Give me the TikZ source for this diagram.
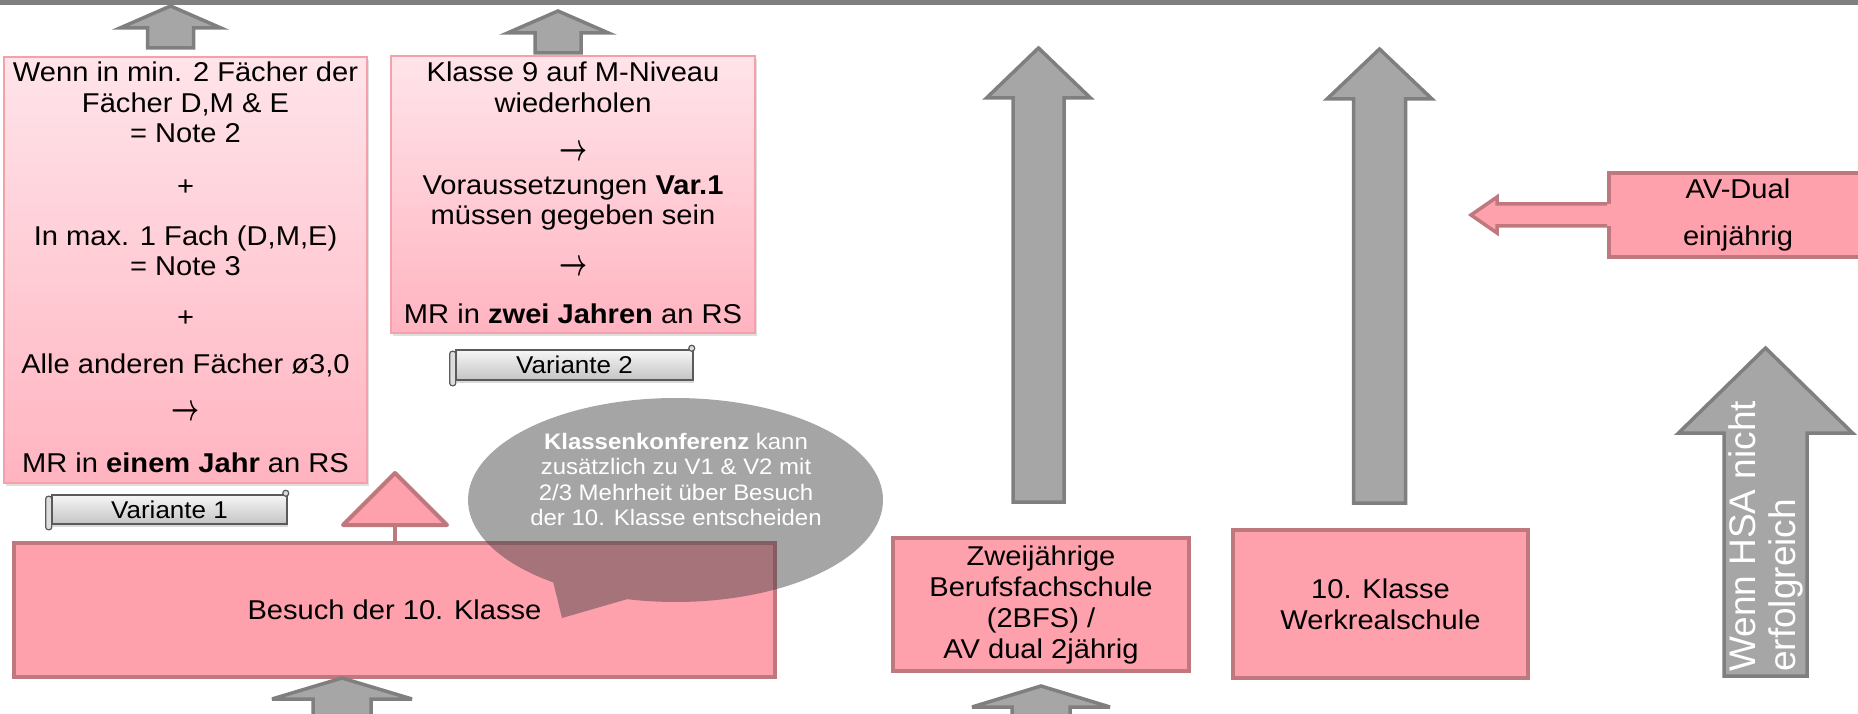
\documentclass[tikz,border=0pt]{standalone}
\usepackage{graphicx}
\usepackage{fontspec}
\setmainfont{Liberation Sans}[FakeStretch=1.07]
\newfontfamily\hsafont{Liberation Sans}
\usetikzlibrary{shadows}
\definecolor{bargray}{RGB}{128,128,128}
\definecolor{arrowfill}{RGB}{166,166,166}
\definecolor{arrowline}{RGB}{127,127,127}
\definecolor{pinkfill}{RGB}{255,161,172}
\definecolor{roseline}{RGB}{192,120,127}
\definecolor{lightpinktop}{RGB}{255,228,234}
\definecolor{lightpinkbot}{RGB}{255,180,192}
\definecolor{lightpinkline}{RGB}{246,160,172}
\definecolor{scrolltop}{RGB}{246,246,246}
\definecolor{scrollbot}{RGB}{196,196,196}
\definecolor{scrollline}{RGB}{90,90,90}
\definecolor{bubblecol}{RGB}{64,64,64}
\newcommand\mainsz{\fontsize{27.2}{31}\selectfont}
\newcommand\labsz{\fontsize{24.3}{27}\selectfont}
\newcommand\bubsz{\fontsize{22.4}{25.3}\selectfont}
\newcommand\hsasz{\hsafont\fontsize{37}{40}\selectfont}
\newcommand\rarr{\resizebox{28pt}{15pt}{\boldmath$\rightarrow$}}
\newcommand\UpBlk[6]{\draw[grayblk] (#1,#2) -- ({#1+#5},#3) -- ({#1+#6},#3) -- ({#1+#6},#4) -- ({#1-#6},#4) -- ({#1-#6},#3) -- ({#1-#5},#3) -- cycle;}
\newcommand\ScrollDeco[1]{%
  \draw[scrollpart, rounded corners=2.5pt] ([shift={(-5.5,2)}]#1.north west) rectangle ([shift={(0.5,5)}]#1.south west);
  \draw[scrollpart] ([shift={(-2,-1)}]#1.north east) circle[radius=3];}
\tikzset{
  grayblk/.style={fill=arrowfill, draw=arrowline, line width=3.5pt, line join=miter, miter limit=6},
  pinkbox/.style={rectangle, fill=pinkfill, draw=roseline, line width=4pt, inner sep=0pt, align=center, font=\mainsz},
  gradbox/.style={rectangle, top color=lightpinktop, bottom color=lightpinkbot, draw=lightpinkline, line width=1.5pt, inner sep=0pt,
    drop shadow={opacity=0.25, shadow xshift=1.5pt, shadow yshift=-3pt}},
  linetext/.style={anchor=base, inner sep=0pt, font=\mainsz},
  scrollbody/.style={rectangle, top color=scrolltop, bottom color=scrollbot, draw=scrollline, line width=1.5pt, inner sep=0pt, font=\labsz,
    drop shadow={opacity=0.3, shadow xshift=1pt, shadow yshift=-2.5pt}},
  scrollpart/.style={fill=scrolltop!50!scrollbot, draw=scrollline, line width=1.2pt},
  bubbletext/.style={anchor=base, inner sep=0pt, text=white, font=\bubsz},
  tristyle/.style={fill=pinkfill, draw=roseline, line width=4pt, line join=round},
  stemline/.style={draw=roseline, line width=4.5pt},
}
\begin{document}
\begin{tikzpicture}[x=1pt, y=-1pt]
\useasboundingbox (0,0) rectangle (1858,714);
\fill[bargray] (0,0) rectangle (1858,5.5);

% --- Variante 1 box
\node[gradbox, minimum width=363, minimum height=426] (box1) at (185.5,270) {};
\foreach \yy/\mytxt [count=\i] in {82/{Wenn in min. 2 Fächer der}, 113/{Fächer D,M \& E}, 143/{= Note 2}, 196/{+},
   245/{In max. 1 Fach (D,M,E)}, 275/{= Note 3}, 326/{+}, 373/{Alle anderen Fächer ø3,0}, 420/{\rarr},
   472/{MR in \textbf{einem Jahr} an RS}}
  \node[linetext] (boa\i) at (185.5,\yy) {\mytxt};

% --- Variante 2 box
\node[gradbox, minimum width=364, minimum height=277] (box2) at (573,194.5) {};
\foreach \yy/\mytxt [count=\i] in {82/{Klasse 9 auf M-Niveau}, 113/{wiederholen}, 161/{\rarr},
   195/{Voraussetzungen \textbf{Var.1}}, 225/{müssen gegeben sein}, 275/{\rarr},
   323/{MR in \textbf{zwei Jahren} an RS}}
  \node[linetext] (bob\i) at (573,\yy) {\mytxt};

% --- top arrows
\UpBlk{170.5}{6}{28}{48}{50.5}{23}
\UpBlk{558}{11}{33}{53}{50.5}{23}

% --- scroll labels
\node[scrollbody, minimum width=235, minimum height=29] (var1) at (169.5,509.5) {Variante 1};
\ScrollDeco{var1}
\node[scrollbody, minimum width=237, minimum height=30] (var2) at (574.5,365) {Variante 2};
\ScrollDeco{var2}

% --- lower boxes
\node[pinkbox, minimum width=761, minimum height=134] (besuch) at (394.5,610) {Besuch der 10. Klasse};
\node[pinkbox, minimum width=296, minimum height=133] (zwei) at (1041,604.5) {Zweijährige\\Berufsfachschule\\(2BFS) /\\AV dual 2jährig};
\node[pinkbox, minimum width=295, minimum height=148] (werk) at (1380.5,604) {10. Klasse\\Werkrealschule};
\node[pinkbox, minimum width=258, minimum height=84] (avdual) at (1738,215) {AV-Dual\\[16pt]einjährig};

% --- tall arrows
\UpBlk{1038.5}{48}{98}{502}{52}{25.5}
\UpBlk{1379.5}{49}{99}{503}{52.5}{26}

% --- bottom arrows
\UpBlk{342}{678}{699}{722}{70}{29}
\UpBlk{1041}{686}{707}{722}{69}{29}

% --- AV-Dual arrow (pointing left)
\coordinate (avtip) at (1471,215);
\fill[pinkfill] (1612,204) -- (1497,204) -- (1497,197) -- (avtip) -- (1497,233) -- (1497,226) -- (1612,226) -- cycle;
\draw[roseline, line width=3.5pt, line join=miter] (avdual.west |- 0,204) -- (1497,204) -- (1497,197) -- (avtip) -- (1497,233) -- (1497,226) -- (avdual.west |- 0,226);

% --- HSA arrow
\UpBlk{1765.5}{348}{433}{676}{87}{41.5}
\node[rotate=90, anchor=north west, inner sep=0pt, align=left, text=white, font=\hsasz] (hsa) at (1728,672) {Wenn HSA nicht\\erfolgreich};

% --- pink triangle on Besuch box
\coordinate (tribase) at (395,525);
\draw[stemline] (tribase) -- (tribase |- besuch.north);
\draw[tristyle] (395,473) -- (447,525) -- (343,525) -- cycle;

% --- speech bubble
\fill[bubblecol, fill opacity=0.47] plot[domain=126.1:463.5, samples=160, variable=\t] ({675.5+207.5*cos(\t)}, {500+102*sin(\t)}) -- (562,618) -- cycle;
\foreach \yy/\mytxt [count=\i] in {449/{\textbf{Klassenkonferenz} kann}, 474/{zusätzlich zu V1 \& V2 mit},
   500/{2/3 Mehrheit über Besuch}, 525/{der 10. Klasse entscheiden}}
  \node[bubbletext] (bub\i) at (676,\yy) {\mytxt};
\end{tikzpicture}
\end{document}
